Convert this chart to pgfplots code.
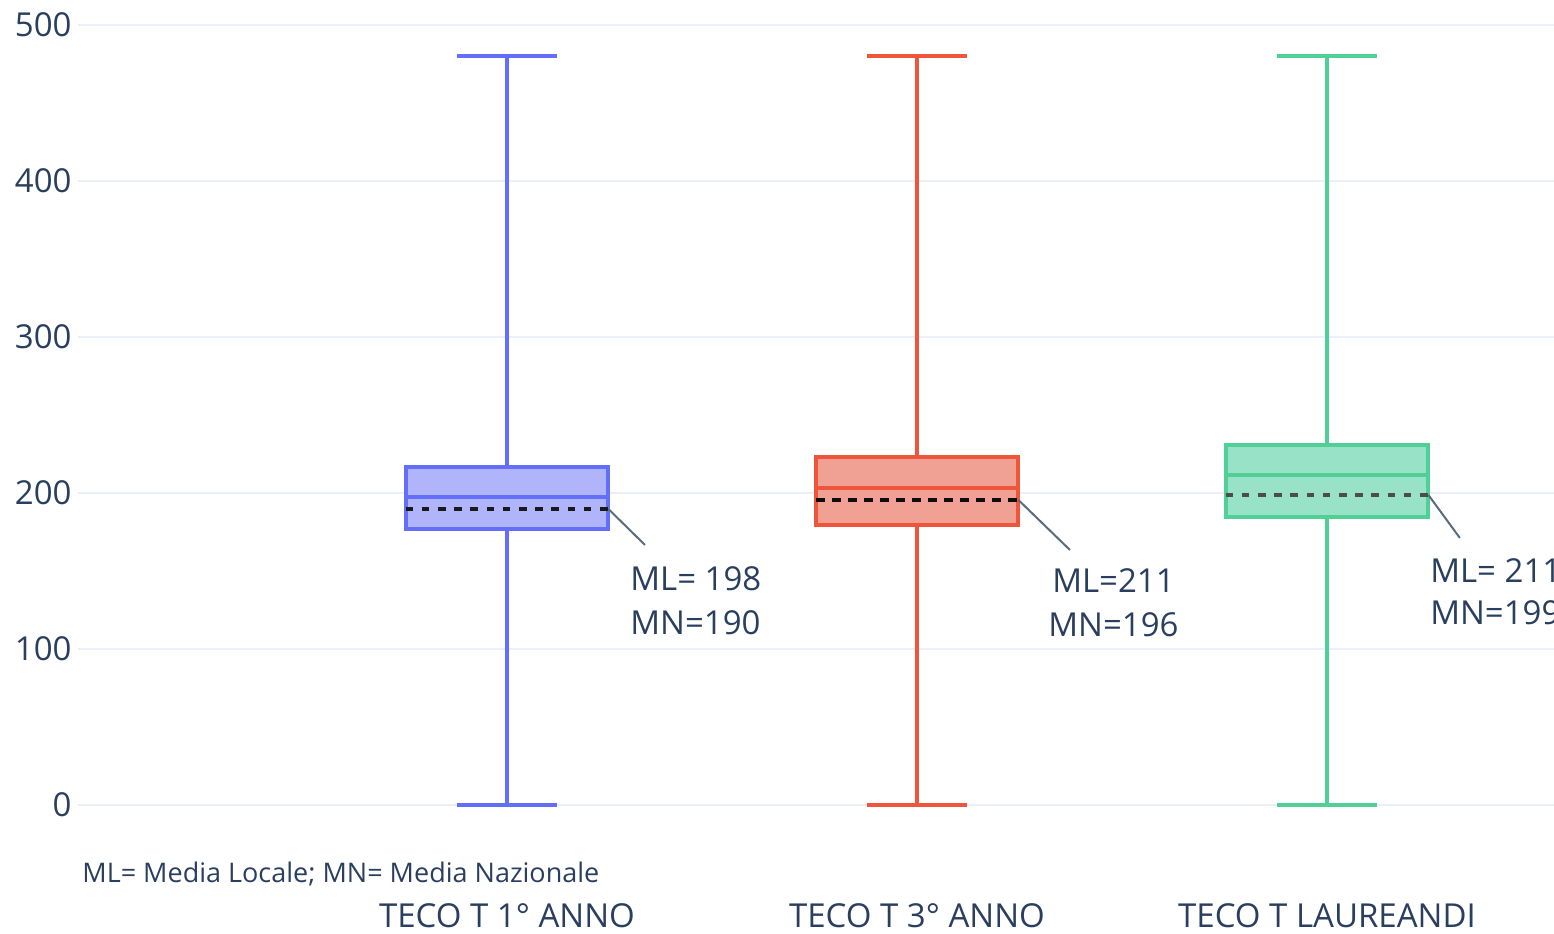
\documentclass[border=0pt]{standalone}
\usepackage{pgfplots}
\pgfplotsset{compat=1.18}
\usepackage{fontspec}
\setmainfont{Open Sans}
\definecolor{cBlue}{HTML}{636EFA}
\definecolor{cRed}{HTML}{EF553B}
\definecolor{cGreen}{HTML}{50CF96}
\definecolor{fBlue}{HTML}{AFB4FB}
\definecolor{fRed}{HTML}{F0A194}
\definecolor{fGreen}{HTML}{98E3C8}
\definecolor{txt}{HTML}{2A3F5F}
\definecolor{grd}{HTML}{EBF0F8}
\definecolor{ann}{HTML}{5A6B7B}
\newcommand{\fs}{\fontsize{16.5}{20}\selectfont}
\begin{document}
\begin{tikzpicture}
\begin{axis}[
  scale only axis,
  width=738pt, height=390pt,
  xmin=-0.0463, xmax=3.5537,
  ymin=0, ymax=500,
  clip=false,
  axis line style={draw=none},
  tick style={draw=none},
  ytick={0,100,200,300,400,500},
  ymajorgrids, grid style={grd, line width=1pt},
  xtick={1,2,3},
  xticklabels={TECO T 1° ANNO, TECO T 3° ANNO, TECO T LAUREANDI},
  /pgf/number format/assume math mode=true,
  yticklabel style={font=\fs, text=txt, inner sep=0pt, xshift=-3pt},
  xticklabel style={font=\fs, text=txt, anchor=center, yshift=-55.5pt},
]
% ---- blue: TECO T 1 anno
\addplot[cBlue, line width=2pt] coordinates {(1,0) (1,176.9)};
\addplot[cBlue, line width=2pt] coordinates {(1,216.9) (1,480)};
\addplot[cBlue, line width=2pt] coordinates {(0.878,0) (1.122,0)};
\addplot[cBlue, line width=2pt] coordinates {(0.878,480) (1.122,480)};
\addplot[draw=cBlue, fill=fBlue, line width=2pt] coordinates {(0.7525,176.9) (1.2475,176.9) (1.2475,216.9) (0.7525,216.9)} -- cycle;
\addplot[cBlue, line width=2pt] coordinates {(0.7525,197.6) (1.2475,197.6)};
% ---- red: TECO T 3 anno
\addplot[cRed, line width=2pt] coordinates {(2,0) (2,179.5)};
\addplot[cRed, line width=2pt] coordinates {(2,223.3) (2,480)};
\addplot[cRed, line width=2pt] coordinates {(1.878,0) (2.122,0)};
\addplot[cRed, line width=2pt] coordinates {(1.878,480) (2.122,480)};
\addplot[draw=cRed, fill=fRed, line width=2pt] coordinates {(1.7525,179.5) (2.2475,179.5) (2.2475,223.3) (1.7525,223.3)} -- cycle;
\addplot[cRed, line width=2pt] coordinates {(1.7525,203.2) (2.2475,203.2)};
% ---- green: TECO T laureandi
\addplot[cGreen, line width=2pt] coordinates {(3,0) (3,184.8)};
\addplot[cGreen, line width=2pt] coordinates {(3,230.8) (3,480)};
\addplot[cGreen, line width=2pt] coordinates {(2.878,0) (3.122,0)};
\addplot[cGreen, line width=2pt] coordinates {(2.878,480) (3.122,480)};
\addplot[draw=cGreen, fill=fGreen, line width=2pt] coordinates {(2.7525,184.8) (3.2475,184.8) (3.2475,230.8) (2.7525,230.8)} -- cycle;
\addplot[cGreen, line width=2pt] coordinates {(2.7525,211.5) (3.2475,211.5)};
% ---- means (dotted)
\addplot[black!90, line width=2pt, dash pattern=on 3.8pt off 4.3pt] coordinates {(0.7525,189.7) (1.2475,189.7)};
\addplot[black!95, line width=2pt, dash pattern=on 4.5pt off 3.5pt] coordinates {(1.7525,195.5) (2.2475,195.5)};
\addplot[black!70, line width=2pt, dash pattern=on 3.8pt off 4.3pt] coordinates {(2.7525,198.7) (3.2475,198.7)};
% ---- annotations
\draw[ann, line width=1pt] (axis cs:1.2475,189.7) -- (axis cs:1.3366,166.7);
\draw[ann, line width=1pt] (axis cs:2.2475,195.5) -- (axis cs:2.373,163.5);
\draw[ann, line width=1pt] (axis cs:3.2475,198.7) -- (axis cs:3.324,171.2);
\node[anchor=base west, inner sep=0pt, font=\fs, text=txt] at (axis cs:1.300,137.8) {ML= 198};
\node[anchor=base west, inner sep=0pt, font=\fs, text=txt] at (axis cs:1.300,109.0) {MN=190};
\node[anchor=base west, inner sep=0pt, font=\fs, text=txt] at (axis cs:2.329,136.5) {ML=211};
\node[anchor=base west, inner sep=0pt, font=\fs, text=txt] at (axis cs:2.3195,107.7) {MN=196};
\node[anchor=base west, inner sep=0pt, font=\fs, text=txt] at (axis cs:3.251,142.9) {ML= 211};
\node[anchor=base west, inner sep=0pt, font=\fs, text=txt] at (axis cs:3.251,115.4) {MN=199};
\node[anchor=base west, inner sep=0pt, text=txt, font=\fontsize{13.5}{16}\selectfont, xshift=2pt, yshift=-38.5pt] at (rel axis cs:0,0) {ML= Media Locale; MN= Media Nazionale};
\coordinate (bl) at (rel axis cs:0,0);
\coordinate (tr) at (rel axis cs:1,1);
\end{axis}
\pgfresetboundingbox
\path[use as bounding box] ([xshift=-39pt,yshift=-64pt]bl) rectangle ([yshift=12.5pt]tr);
\end{tikzpicture}
\end{document}
